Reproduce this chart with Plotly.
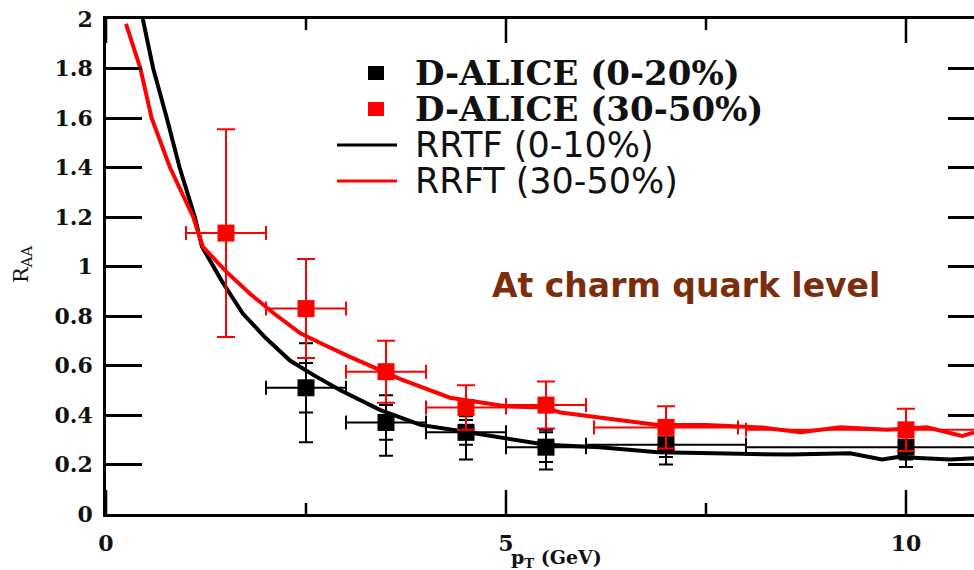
import plotly.graph_objects as go

# ---- D-meson R_AA, ALICE, 0-20% centrality ----
pt_0_20 = [2.5, 3.5, 4.5, 5.5, 7.0, 10.0]
raa_0_20 = [0.51, 0.37, 0.33, 0.27, 0.28, 0.27]
pt_bin_0_20 = [0.5, 0.5, 0.5, 0.5, 1.0, 2.0]
stat_0_20 = [0.10, 0.07, 0.05, 0.06, 0.05, 0.05]
syst_up_0_20 = [0.18, 0.11, 0.065, 0.07, 0.08, 0.08]
syst_dn_0_20 = [0.22, 0.135, 0.11, 0.09, 0.08, 0.08]

# ---- D-meson R_AA, ALICE, 30-50% centrality ----
pt_30_50 = [1.5, 2.5, 3.5, 4.5, 5.5, 7.0, 10.0]
raa_30_50 = [1.135, 0.83, 0.575, 0.43, 0.44, 0.35, 0.34]
pt_bin_30_50 = [0.5, 0.5, 0.5, 0.5, 0.5, 0.9, 2.0]
err_30_50 = [0.42, 0.20, 0.125, 0.09, 0.095, 0.085, 0.085]

# ---- model curves ----
pt_rrtf = [0.46, 0.59, 0.76, 0.92, 1.11, 1.2, 1.45, 1.71, 2.0, 2.3, 2.6, 2.93,
           3.43, 3.93, 4.43, 5.0, 5.5, 6.17, 6.9, 7.6, 8.55, 9.3, 9.7, 9.9,
           10.55, 10.85]
raa_rrtf = [2.0, 1.8, 1.6, 1.4, 1.2, 1.08, 0.94, 0.81, 0.71, 0.62, 0.56, 0.50,
            0.42, 0.36, 0.335, 0.307, 0.28, 0.27, 0.25, 0.245, 0.24, 0.245,
            0.22, 0.23, 0.22, 0.225]
pt_rrft = [0.25, 0.43, 0.57, 0.8, 1.09, 1.21, 1.5, 1.8, 2.1, 2.43, 2.75, 3.05,
           3.68, 4.3, 5.0, 5.5, 5.68, 6.17, 6.9, 7.5, 8.2, 8.68, 9.18, 9.76,
           10.14, 10.26, 10.7, 10.85]
raa_rrft = [1.98, 1.8, 1.6, 1.4, 1.2, 1.08, 0.98, 0.89, 0.81, 0.73, 0.68, 0.635,
            0.545, 0.47, 0.435, 0.43, 0.41, 0.39, 0.36, 0.36, 0.35, 0.33, 0.35,
            0.34, 0.35, 0.35, 0.315, 0.33]

# x-axis tick positions (major labelled, minor unlabelled)
x_major_ticks = [0, 5, 10]
x_minor_ticks = [2.5, 7.5]
y_ticks = [0, 0.2, 0.4, 0.6, 0.8, 1, 1.2, 1.4, 1.6, 1.8, 2]
y_tick_text = ["0", "0.2", "0.4", "0.6", "0.8", "1", "1.2", "1.4", "1.6", "1.8", "2"]

legend_rows = [
    ("D-ALICE (0-20%)", "black", "marker"),
    ("D-ALICE (30-50%)", "red", "marker"),
    ("RRTF (0-10%)", "black", "line"),
    ("RRFT (30-50%)", "red", "line"),
]
note_text = "At charm quark level"

W, H = 974, 570
ML, MT, MB = 106, 19, 56
PW, PH = W - ML, H - MT - MB
X_MAX = PW / 80


def px(x):
    return (x - ML) / PW


def py(y):
    return (H - MB - y) / PH


fig = go.Figure()

fig.add_trace(go.Scatter(x=pt_rrtf, y=raa_rrtf, mode="lines",
                         line=dict(color="black", width=4), showlegend=False))
fig.add_trace(go.Scatter(x=pt_rrft, y=raa_rrft, mode="lines",
                         line=dict(color="red", width=4), showlegend=False))

# systematic uncertainties (outer bars)
fig.add_trace(go.Scatter(
    x=pt_0_20, y=raa_0_20, mode="markers", marker=dict(size=1, color="black"),
    error_y=dict(type="data", array=syst_up_0_20, arrayminus=syst_dn_0_20,
                 symmetric=False, color="black", thickness=2, width=7),
    showlegend=False))
# statistical uncertainties + bin widths
fig.add_trace(go.Scatter(
    x=pt_0_20, y=raa_0_20, mode="markers",
    marker=dict(symbol="square", size=17, color="black"),
    error_y=dict(type="data", array=stat_0_20, color="black", thickness=2, width=7),
    error_x=dict(type="data", array=pt_bin_0_20, color="black", thickness=2, width=7),
    showlegend=False))
fig.add_trace(go.Scatter(
    x=pt_30_50, y=raa_30_50, mode="markers",
    marker=dict(symbol="square", size=17, color="red"),
    error_y=dict(type="data", array=err_30_50, color="red", thickness=2, width=9),
    error_x=dict(type="data", array=pt_bin_30_50, color="red", thickness=2, width=7),
    showlegend=False))

# empty trace so the right-hand tick axis is drawn
fig.add_trace(go.Scatter(x=[], y=[], yaxis="y2", showlegend=False))

tick_font = dict(family="DejaVu Serif", size=22, color="#111111", weight="bold")

fig.update_layout(
    width=W, height=H, autosize=False,
    margin=dict(l=ML, r=0, t=MT, b=MB, pad=0),
    paper_bgcolor="white", plot_bgcolor="white",
    showlegend=False,
    xaxis=dict(range=[0, X_MAX], tickvals=x_major_ticks, ticks="",
               showline=True, linewidth=2.5, linecolor="black", mirror=True,
               showgrid=False, zeroline=False, tickfont=tick_font,
               ticklabelstandoff=8),
    yaxis=dict(range=[0, 2], tickvals=y_ticks, ticktext=y_tick_text,
               ticks="inside", ticklen=36, tickwidth=2.5, tickcolor="black",
               showline=True, linewidth=2.5, linecolor="black",
               showgrid=False, zeroline=False, tickfont=tick_font,
               ticklabelstandoff=6),
    yaxis2=dict(overlaying="y", side="right", range=[0, 2], tickvals=y_ticks,
                ticks="inside", ticklen=26, tickwidth=2.5, tickcolor="black",
                showline=False, showticklabels=False, showgrid=False,
                zeroline=False),
)

# x-axis tick marks on the bottom and top edges of the frame
shapes = []
for ticks, length in ((x_major_ticks, 24), (x_minor_ticks, 11)):
    for t in ticks:
        for edge, sign in ((0, 1), (1, -1)):
            shapes.append(dict(type="line", xref="x", yref="paper",
                               x0=t, x1=t, ysizemode="pixel", yanchor=edge,
                               y0=0, y1=sign * length,
                               line=dict(color="black", width=2.5)))

annotations = [
    dict(text="R<sub>AA</sub>", x=px(22), y=py(265), xref="paper", yref="paper",
         xanchor="center", yanchor="middle", showarrow=False, textangle=-90,
         font=dict(family="DejaVu Serif", size=21, color="#111111")),
    dict(text="<b>p<sub>T</sub> (GeV)</b>", x=px(556), y=py(558), xref="paper",
         yref="paper", xanchor="center", yanchor="middle", showarrow=False,
         font=dict(family="DejaVu Serif", size=19, color="#111111")),
    dict(text="<b>%s</b>" % note_text, x=px(686), y=py(286), xref="paper",
         yref="paper", xanchor="center", yanchor="middle", showarrow=False,
         font=dict(family="DejaVu Sans", size=33, color="#7a2e0c")),
]

row_y = [73, 109, 145, 181]
for (label, color, kind), ry in zip(legend_rows, row_y):
    if kind == "marker":
        shapes.append(dict(type="rect", xref="paper", yref="paper",
                           x0=px(368), x1=px(384), y0=py(ry - 7), y1=py(ry + 7),
                           fillcolor=color, line=dict(width=0)))
        font = dict(family="DejaVu Serif", size=34, color="#111111", weight="bold")
    else:
        shapes.append(dict(type="line", xref="paper", yref="paper",
                           x0=px(337), x1=px(397), y0=py(ry), y1=py(ry),
                           line=dict(color=color, width=3)))
        font = dict(family="DejaVu Sans", size=35, color="#111111")
    annotations.append(dict(text=label, x=px(413), y=py(ry), xref="paper",
                            yref="paper", xanchor="left", yanchor="middle",
                            showarrow=False, font=font))

fig.update_layout(annotations=annotations, shapes=shapes)

fig.write_html("out.html")
